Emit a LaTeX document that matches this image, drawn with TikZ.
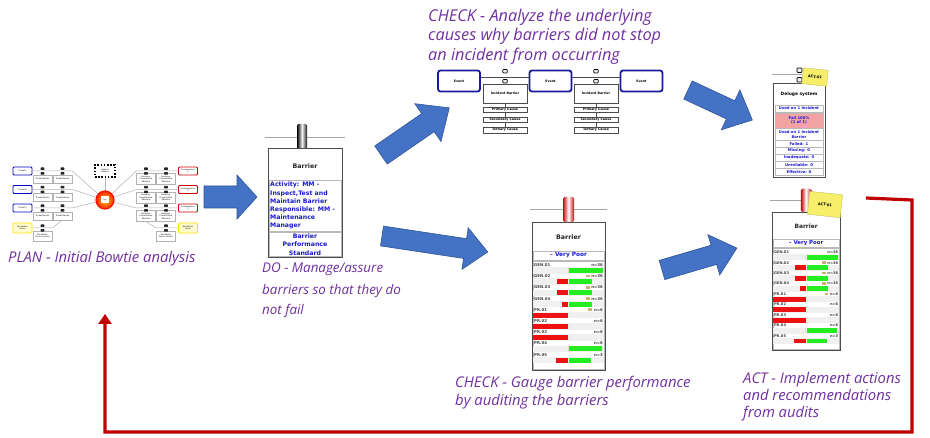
\documentclass[tikz,border=0pt]{standalone}
\usepackage{fontspec}
\setmainfont{DejaVu Sans}
\newfontfamily\capfont{Open Sans}
\usetikzlibrary{arrows.meta,calc,shapes.geometric}
\definecolor{capPurple}{HTML}{7030A0}
\definecolor{arrBlue}{HTML}{4472C4}
\definecolor{arrEdge}{HTML}{2F5597}
\definecolor{fbRed}{HTML}{C00000}
\definecolor{cardBlue}{HTML}{1A1AD0}
\definecolor{evNavy}{HTML}{1A1A9C}
\definecolor{gGreen}{HTML}{22EE22}
\definecolor{gRed}{HTML}{EE1111}
\definecolor{failPink}{HTML}{F4A3A3}
\definecolor{noteYellow}{HTML}{F7EE6A}
\definecolor{iconC}{HTML}{C8B070}
\tikzset{
 caption/.style={font=\capfont\itshape\fontsize{14.8}{17}\selectfont, text=capPurple, inner sep=0pt, anchor=base west},
 captionsmall/.style={caption, font=\capfont\itshape\fontsize{13.4}{16}\selectfont},
 captionbig/.style={caption, font=\capfont\itshape\fontsize{16.3}{19}\selectfont},
 blockarrow/.style={fill=arrBlue, draw=arrEdge, line width=0.6pt, line join=miter},
 pinline/.style={draw=gray!70, line width=0.6pt},
 cardedge/.style={draw=gray!60!black, line width=0.5pt},
 rowedge/.style={draw=gray!55, line width=0.4pt},
 cardtitle/.style={font=\bfseries\fontsize{6.3}{7.5}\selectfont, text=black!85, inner sep=0pt},
 cardtext/.style={font=\bfseries\fontsize{6.2}{8.2}\selectfont, text=cardBlue, inner sep=0pt},
 verypoor/.style={font=\bfseries\fontsize{5.8}{6.5}\selectfont, text=cardBlue, inner sep=0pt},
 rowlab/.style={font=\bfseries\fontsize{3.9}{4.4}\selectfont, text=black!75, inner sep=0pt},
 dtext/.style={font=\bfseries\fontsize{3.8}{4.6}\selectfont, text=cardBlue, inner sep=0pt, align=center},
 sticky/.style={fill=noteYellow, draw=yellow!50!gray, line width=0.4pt, font=\bfseries\fontsize{3.6}{4}\selectfont, inner sep=0pt, minimum width=25, minimum height=16},
 event/.style={draw=evNavy, line width=1.8pt, rounded corners=2.5pt, fill=white, minimum width=42, minimum height=21, inner sep=0pt, font=\bfseries\fontsize{3.2}{4}\selectfont},
 ibar/.style={draw=gray!60!black, line width=0.4pt, fill=white, minimum width=44, minimum height=19, inner sep=0pt, font=\bfseries\fontsize{3.2}{4}\selectfont},
 cause/.style={draw=gray!60!black, line width=0.4pt, fill=white, minimum width=44, minimum height=5.5, inner sep=0pt, font=\bfseries\fontsize{3.2}{4}\selectfont},
 evline/.style={draw=gray!60!black, line width=0.5pt},
 pinstyle/.style={fill=gray!15, draw=black, line width=0.7pt, rounded corners=0.8pt},
 threat/.style={draw=blue!75!black, line width=0.9pt, fill=white, rounded corners=1pt, minimum width=19, minimum height=8, inner sep=0pt, font=\fontsize{2}{2.4}\selectfont, align=center},
 conseq/.style={threat, draw=red!80!black},
 escal/.style={threat, draw=yellow!85!orange, fill=yellow!20, minimum height=10},
 bbox/.style={draw=gray!60, line width=0.3pt, fill=white, minimum width=19, minimum height=8, inner sep=0pt, font=\fontsize{2}{2.4}\selectfont, align=center},
 bline/.style={draw=gray!60, line width=0.5pt},
 fbline/.style={draw=fbRed, line width=3.2pt, line join=miter, -{Triangle[width=13pt,length=10pt]}},
}
\newcommand\BlockArrow[7]{%
 \begin{scope}[shift={(#1,#2)},rotate=#3]
 \path[blockarrow] (0,-#5) -- ({#4-#7},-#5) -- ({#4-#7},-#6) -- (#4,0) -- ({#4-#7},#6) -- ({#4-#7},#5) -- (0,#5) -- cycle;
 \end{scope}}
\newcommand\TinyPin[2]{%
 \fill[black!85, rounded corners=0.4pt] ({#1-1.8},{#2-3.5}) rectangle ({#1+1.8},{#2-1});
 \fill[black!85, rounded corners=0.4pt] ({#1-1.8},{#2+1.2}) rectangle ({#1+1.8},{#2+3.7});}
\newcommand\EvPin[2]{%
 \draw[pinstyle] ({#1-2.3},{#2-7.5}) rectangle ({#1+2.3},{#2-4});
 \draw[pinstyle] ({#1-2.3},{#2+2.5}) rectangle ({#1+2.3},{#2+6});}
\newcommand\GaugeCard[1]{%
 \draw[pinline] (-2,-13) -- (75,-13);
 \shade[left color=gRed!80!black, right color=gRed!80!black, middle color=white, rounded corners=1.5pt] (31,-25) rectangle (42,0);
 \draw[cardedge, fill=white] (0,0) rectangle (73,148);
 \node[cardtitle] (#1title) at (36.5,15) {Barrier};
 \draw[rowedge] (1,29) rectangle (72,38);
 \node[verypoor] (#1vp) at (36.5,33.5) {-- Very Poor};
 \draw[rowedge] (1,39) rectangle (72,147);
 \foreach \lab/\nn/\rr/\gg/\ic [count=\i from 0] in {GEN.01/n=36/0/34/0,GEN.02/n=36/11/23/1,GEN.03/n=36/11/23/1,GEN.04/n=36/6/23/1,PR.01/n=6/35/0/1,PR.02/n=6/35/0/0,PR.03/n=6/35/0/0,PR.04/n=6/0/33/0,PR.05/n=3/12/22/0}{
  \pgfmathsetmacro\yy{43+11.2*\i}
  \fill[gray!12] (1,\yy+2.3) rectangle (72,\yy+8.6);
  \node[rowlab, anchor=west] (#1l\i) at (2,\yy) {\lab};
  \node[rowlab, anchor=east] (#1n\i) at (71,\yy) {\nn};
  \fill[gRed] (36-\rr,\yy+3) rectangle (36,\yy+8);
  \fill[gGreen] (37,\yy+3) rectangle (37+\gg,\yy+8);
  \ifnum\ic=1 \fill[iconC] ($(#1n\i.west)+(-5.5,-1.6)$) rectangle ++(4,2.8);\fi
 }}
\begin{document}
\begin{tikzpicture}[x=1pt,y=-1pt]
\useasboundingbox (0,0) rectangle (930,438);
\fill[white] (0,0) rectangle (930,438);

% ---------------- PLAN: bowtie ----------------
\node[threat] (t1) at (22.5,171) {Threat 1};
\node[threat] (t2) at (22.5,189.5) {Threat 2};
\node[threat] (t3) at (22.5,208) {Threat 3};
\node[escal] (e1) at (22.5,228) {Escalation\\factor};
\node[bbox] (lb11) at (42.5,179) {Threat Barrier};
\node[bbox] (lb12) at (62.5,179) {Threat Barrier};
\node[bbox] (lb21) at (42.5,197.5) {Threat Barrier};
\node[bbox] (lb22) at (62.5,197.5) {Threat Barrier};
\node[bbox] (lb31) at (42.5,216) {Threat Barrier};
\node[bbox] (lb32) at (62.5,216) {Threat Barrier};
\node[bbox, minimum height=10] (lb4) at (42.5,236) {Escalation\\Factor Control};
\node[draw=black, line width=1.8pt, dash pattern=on 1.6pt off 1.6pt, preaction={draw=yellow!90!orange, line width=1.8pt}, fill=white, minimum width=20, minimum height=12, inner sep=0pt, font=\fontsize{2}{2.4}\selectfont, align=center] (hz) at (105,171) {Hazard\\Hazard};
\node[conseq] (c1) at (188,171) {Consequence\\1};
\node[conseq] (c2) at (188,189.5) {Consequence\\2};
\node[conseq] (c3) at (188,208) {Consequence\\3};
\node[escal] (e2) at (188,228) {Escalation\\factor};
\node[bbox, minimum height=11] (rb11) at (146,179) {Recovery\\Preventative\\Measure};
\node[bbox, minimum height=11] (rb12) at (166,179) {Recovery\\Preventative\\Measure};
\node[bbox, minimum height=11] (rb21) at (146,197.5) {Recovery\\Preventative\\Measure};
\node[bbox, minimum height=11] (rb22) at (166,197.5) {Recovery\\Preventative\\Measure};
\node[bbox, minimum height=11] (rb31) at (146,216) {Recovery\\Preventative\\Measure};
\node[bbox, minimum height=11] (rb32) at (166,216) {Recovery\\Preventative\\Measure};
\node[bbox, minimum height=10] (rb4) at (166,236) {Escalation\\Factor Control};
\draw[bline] (t1.east) -- (lb12.north east |- t1.east) -- (105,200);
\draw[bline] (t2.east) -- (lb22.north east |- t2.east) -- (105,200);
\draw[bline] (t3.east) -- (lb32.north east |- t3.east) -- (105,200);
\draw[bline] (e1.east) -- (lb4.north east |- e1.east) -- (lb32.south);
\draw[bline] (hz.south) -- (105,200);
\draw[bline] (105,200) -- (rb11.north west |- c1.west) -- (c1.west);
\draw[bline] (105,200) -- (rb21.north west |- c2.west) -- (c2.west);
\draw[bline] (105,200) -- (rb31.north west |- c3.west) -- (c3.west);
\draw[bline] (e2.west) -- (rb4.north west |- e2.west) -- (rb31.south);
\node[circle, draw=red!85!orange, line width=1.2pt, inner color=yellow!60!orange, outer color=red!75!orange, minimum size=18, inner sep=0pt] (top) at (105,200) {};
\node[fill=white, minimum width=8, minimum height=7, inner sep=0pt, font=\fontsize{1.8}{2}\selectfont] (toplab) at (top) {Top};
\foreach \xx in {42.5,62.5}{\TinyPin{\xx}{171}\TinyPin{\xx}{189.5}\TinyPin{\xx}{208}}
\TinyPin{42.5}{228}
\foreach \xx in {146,166}{\TinyPin{\xx}{171}\TinyPin{\xx}{189.5}\TinyPin{\xx}{208}}
\TinyPin{166}{228}
\node[caption] (plan) at (8,263) {PLAN - Initial Bowtie analysis};

% ---------------- blue arrows ----------------
\BlockArrow{204}{197}{0}{53}{11}{22}{20}
\BlockArrow{381}{155}{34.6}{83}{11}{23}{26}
\BlockArrow{688}{90}{-25}{71}{10}{22}{24}
\BlockArrow{382}{236}{-8.6}{107}{10}{21}{23}
\BlockArrow{662}{270}{16.3}{78}{10}{21}{24}

% ---------------- DO card ----------------
\draw[pinline] (265,137) -- (345,137);
\shade[left color=black, right color=black!90, middle color=white!90!gray, rounded corners=1.5pt] (297,124) rectangle (307,150);
\draw[cardedge, fill=white] (268,148) rectangle (342,257);
\node[cardtitle] (dotitle) at (305,166) {Barrier};
\draw[rowedge] (269,180) rectangle (341,231);
\draw[rowedge] (269,232) rectangle (341,256);
\node[cardtext, anchor=north west, align=left] (doact) at (270,182) {Activity: MM -\\Inspect,Test and\\Maintain Barrier\\Responsible: MM -\\Maintenance\\Manager};
\node[cardtext, align=center] (dostd) at (305,244.5) {Barrier\\Performance\\Standard};
\node[captionsmall] (do1) at (262,273) {DO - Manage/assure};
\node[captionsmall] (do2) at (262,294.5) {barriers so that they do};
\node[captionsmall] (do3) at (262,315) {not fail};

% ---------------- CHECK: event chain ----------------
\node[captionbig] (ck1) at (428,21.5) {CHECK - Analyze the underlying};
\node[captionbig] (ck2) at (428,41) {causes why barriers did not stop};
\node[captionbig] (ck3) at (428,60.5) {an incident from occurring};
\node[event] (ev1) at (459,81) {Event};
\node[event] (ev2) at (550.5,81) {Event};
\node[event] (ev3) at (641.5,81) {Event};
\draw[evline] ($(ev1.east)+(0,-4)$) -- ($(ev2.west)+(0,-4)$);
\draw[evline] ($(ev2.east)+(0,-4)$) -- ($(ev3.west)+(0,-4)$);
\foreach \k/\xx in {1/505,2/596}{
 \node[ibar] (ib\k) at (\xx,93.5) {Incident Barrier};
 \node[cause] (pc\k) at (\xx,109.5) {Primary Cause};
 \node[cause] (sc\k) at (\xx,119.5) {Secondary Cause};
 \node[cause] (tc\k) at (\xx,130) {Tertiary Cause};
 \draw[evline] (ib\k.south) -- (pc\k.north);
 \draw[evline] (pc\k.south) -- (sc\k.north);
 \draw[evline] (sc\k.south) -- (tc\k.north);
 \EvPin{\xx}{77}
}

% ---------------- ACT: deluge card ----------------
\draw[pinline] (772,74) -- (802,74);
\draw[pinstyle] (797,68) rectangle (802,72.5);
\draw[pinstyle] (797,77.5) rectangle (802,82);
\draw[cardedge, fill=white] (773,83) rectangle (825,177);
\node[font=\bfseries\fontsize{4.4}{5}\selectfont, inner sep=0pt] (dtitle) at (799,94) {Deluge system};
\draw[rowedge] (775,105) rectangle (823,112);
\node[dtext] (dr1) at (799,108.5) {Used on 1 Incident};
\draw[rowedge, fill=failPink] (775,113) rectangle (823,128);
\node[dtext] (dr2) at (799,120.5) {Fail 100\%\\(1 of 1)};
\draw[rowedge] (775,128.5) rectangle (823,140);
\node[dtext] (dr3) at (799,134.3) {Used on 1 Incident\\Barrier};
\draw[rowedge] (775,140.5) rectangle (823,147);
\node[dtext] (dr4) at (799,143.8) {Failed: 1};
\draw[rowedge] (775,147.5) rectangle (823,154);
\node[dtext] (dr5) at (799,150.8) {Missing: 0};
\draw[rowedge] (775,154.5) rectangle (823,161);
\node[dtext] (dr6) at (799,157.8) {Inadequate: 0};
\draw[rowedge] (775,161.5) rectangle (823,168);
\node[dtext] (dr7) at (799,164.8) {Unreliable: 0};
\draw[rowedge] (775,168.5) rectangle (823,175);
\node[dtext] (dr8) at (799,171.8) {Effective: 0};
\node[sticky, rotate=-6] (note1) at (815,77) {ACT-01};

% ---------------- gauge cards ----------------
\begin{scope}[shift={(532,222)}]
\GaugeCard{m}
\end{scope}
\begin{scope}[shift={(772,212)}, scale=0.935, transform shape]
\GaugeCard{r}
\end{scope}
\node[sticky, rotate=-6, minimum width=33, minimum height=23] (note2) at (825,204.5) {ACT-01};
\node[caption] (gc1) at (455,388) {CHECK - Gauge barrier performance};
\node[caption] (gc2) at (455,406) {by auditing the barriers};
\node[caption] (ac1) at (743,384) {ACT - Implement actions};
\node[caption] (ac2) at (743,401) {and recommendations};
\node[caption] (ac3) at (743,418) {from audits};

% ---------------- feedback loop ----------------
\coordinate (fb0) at (866,198);
\coordinate (fb1) at (912,200);
\coordinate (fb2) at (912,432);
\coordinate (fb3) at (105,432);
\coordinate (fb4) at (105,314);
\draw[fbline] (fb0) -- (fb1) -- (fb2) -- (fb3) -- (fb4);
\end{tikzpicture}
\end{document}
